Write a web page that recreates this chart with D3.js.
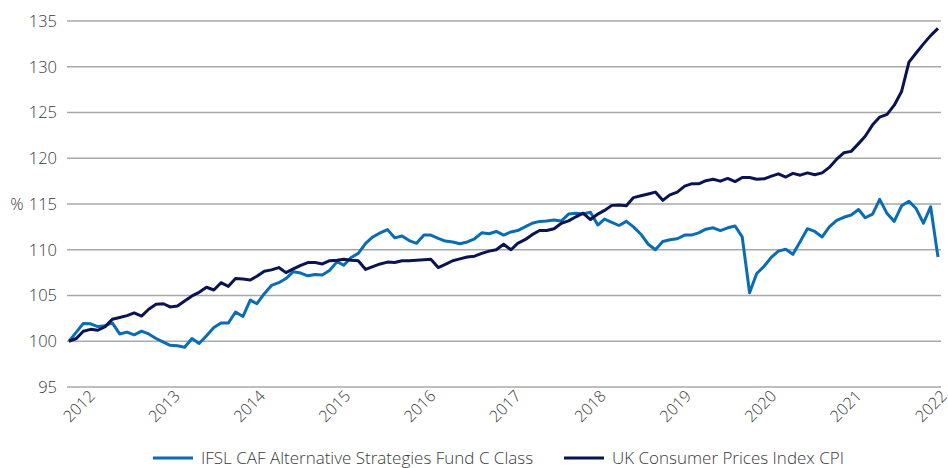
<!DOCTYPE html>
<html>
<head>
<meta charset="utf-8">
<script src="https://cdn.jsdelivr.net/npm/d3@7"></script>
<style>
  body { margin: 0; background: #fff; }
  text { font-family: "Open Sans", Lato, sans-serif; fill: #3a3a3a; font-weight: 300; }
</style>
</head>
<body>
<div id="chart"></div>
<script>
// monthly values, Jan 2012 .. Jan 2022 (index, 100 = start)
const fund = [
  100.0, 101.0, 101.95, 101.9, 101.6, 101.7, 102.0, 100.8, 101.0, 100.7, 101.1, 100.8,
  100.3, 99.9, 99.55, 99.5, 99.35, 100.3, 99.75, 100.6, 101.5, 102.0, 102.0, 103.2,
  102.7, 104.5, 104.1, 105.2, 106.1, 106.4, 106.85, 107.6, 107.45, 107.15, 107.3, 107.25,
  107.75, 108.7, 108.3, 109.15, 109.6, 110.7, 111.4, 111.85, 112.2, 111.3, 111.5, 111.0,
  110.7, 111.6, 111.6, 111.25, 110.95, 110.85, 110.65, 110.85, 111.2, 111.85, 111.75, 112.0,
  111.6, 111.95, 112.1, 112.5, 112.9, 113.1, 113.15, 113.25, 113.15, 113.9, 114.0, 113.9,
  114.1, 112.7, 113.35, 113.0, 112.65, 113.1, 112.5, 111.7, 110.6, 110.0, 110.9, 111.1,
  111.2, 111.6, 111.6, 111.85, 112.25, 112.4, 112.1, 112.4, 112.6, 111.4, 105.3, 107.4,
  108.2, 109.2, 109.85, 110.05, 109.5, 110.9, 112.3, 112.0, 111.4, 112.5, 113.2, 113.55,
  113.8, 114.4, 113.5, 113.9, 115.5, 113.95, 113.1, 114.8, 115.3, 114.5, 112.9, 114.7,
  109.2
];
const cpi = [
  100.0, 100.3, 101.1, 101.3, 101.2, 101.6, 102.4, 102.6, 102.8, 103.1, 102.75, 103.5,
  104.05, 104.1, 103.75, 103.85, 104.4, 104.95, 105.35, 105.9, 105.6, 106.4, 106.0, 106.85,
  106.8, 106.7, 107.1, 107.65, 107.8, 108.05, 107.5, 107.9, 108.3, 108.6, 108.6, 108.45,
  108.8, 108.85, 108.95, 108.85, 108.8, 107.85, 108.15, 108.45, 108.65, 108.6, 108.8, 108.8,
  108.85, 108.9, 108.95, 108.05, 108.4, 108.8, 109.0, 109.2, 109.3, 109.6, 109.85, 110.0,
  110.6, 110.0, 110.7, 111.1, 111.65, 112.1, 112.1, 112.3, 112.9, 113.15, 113.6, 114.0,
  113.3, 113.9, 114.3, 114.85, 114.9, 114.8, 115.7, 115.9, 116.1, 116.3, 115.4, 116.0,
  116.3, 116.95, 117.2, 117.2, 117.55, 117.7, 117.5, 117.8, 117.45, 117.9, 117.9, 117.7,
  117.75, 118.05, 118.3, 117.95, 118.35, 118.15, 118.4, 118.2, 118.4, 119.0, 119.9, 120.6,
  120.75, 121.6, 122.4, 123.65, 124.5, 124.8, 125.8, 127.3, 130.5, 131.5, 132.5, 133.4,
  134.2
];
const months = d3.range(fund.length).map(i => new Date(2012, i, 1));
const yearLabels = ["2012", "2013", "2014", "2015", "2016", "2017", "2018", "2019", "2020", "2021", "2022"];
const yTicks = [95, 100, 105, 110, 115, 120, 125, 130, 135];
const seriesNames = ["IFSL CAF Alternative Strategies Fund C Class", "UK Consumer Prices Index CPI"];
const colors = ["#0a6cb4", "#0b1452"];

const W = 948, H = 468;
const svg = d3.select("#chart").append("svg").attr("width", W).attr("height", H);

const x = d3.scaleTime().domain([months[0], months[months.length - 1]]).range([69, 938]);
const y = d3.scaleLinear().domain([95, 135]).range([387, 21]);
// year labels are spread evenly across the axis
const xLab = d3.scalePoint().domain(yearLabels).range([79, 931]);
const labelY = 406;

// gridlines
svg.append("g")
  .selectAll("line")
  .data(yTicks)
  .join("line")
  .attr("x1", 67).attr("x2", 941)
  .attr("y1", d => y(d)).attr("y2", d => y(d))
  .attr("stroke", "#a9a9a9").attr("stroke-width", 1.4);

// y axis labels
const yAxis = svg.append("g")
  .attr("transform", "translate(57,0)")
  .call(d3.axisLeft(y).tickValues(yTicks).tickSize(0).tickPadding(0));
yAxis.select(".domain").remove();
yAxis.selectAll("text").style("font-size", "16.5px").attr("fill", null);

svg.append("text")
  .attr("x", 17).attr("y", y(115)).attr("dy", "0.35em")
  .attr("text-anchor", "middle")
  .style("font-size", "16.5px")
  .text("%");

// x axis labels: written along a -45 degree path through each label centre
const defs = svg.append("defs");
defs.selectAll("path")
  .data(yearLabels)
  .join("path")
  .attr("id", d => "yr" + d)
  .attr("d", d => `M${xLab(d) - 30},${labelY + 30}L${xLab(d) + 30},${labelY - 30}`);

svg.append("g")
  .attr("class", "x-labels")
  .selectAll("text")
  .data(yearLabels)
  .join("text")
  .attr("dy", "0.35em")
  .style("font-size", "16px")
  .append("textPath")
  .attr("href", d => "#yr" + d)
  .attr("startOffset", "50%")
  .attr("text-anchor", "middle")
  .text(d => d);

// lines
const line = d3.line()
  .x((d, i) => x(months[i]))
  .y(d => y(d));

svg.selectAll("path.series")
  .data([fund, cpi])
  .join("path")
  .attr("class", "series")
  .attr("d", line)
  .attr("fill", "none")
  .attr("stroke", (d, i) => colors[i])
  .attr("stroke-width", 3)
  .attr("stroke-linejoin", "round");

// legend
const legendX = [153, 564];
const legend = svg.selectAll("g.legend")
  .data(seriesNames)
  .join("g")
  .attr("class", "legend")
  .attr("transform", (d, i) => `translate(${legendX[i]},458)`);
legend.append("line")
  .attr("x1", 0).attr("x2", 40).attr("y1", 0).attr("y2", 0)
  .attr("stroke", (d, i) => colors[i]).attr("stroke-width", 3);
legend.append("text")
  .attr("x", 48).attr("dy", "0.35em")
  .style("font-size", "17px")
  .text(d => d);
</script>
</body>
</html>
